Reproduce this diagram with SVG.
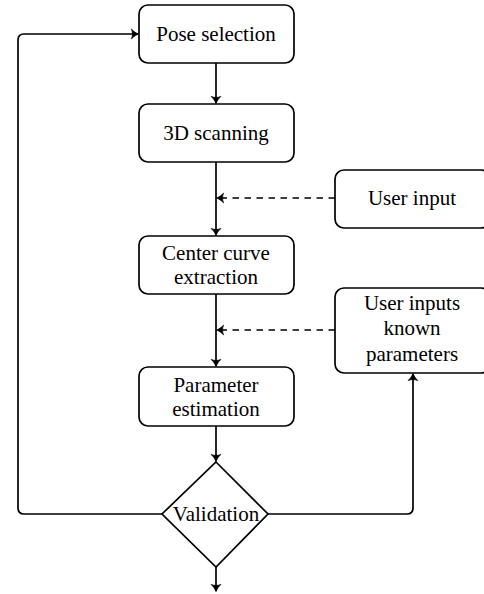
<svg xmlns="http://www.w3.org/2000/svg" width="484" height="594" viewBox="0 0 484 594">
  <style>
    .box { fill: #fff; stroke: #000; stroke-width: 1.7; }
    .lbl { font-family: "Liberation Serif", "Times New Roman", serif; font-size: 21px; fill: #000; text-anchor: middle; }
    .edge { fill: none; stroke: #000; stroke-width: 1.7; marker-end: url(#tip); }
    .dash { stroke-dasharray: 6.5 5.5; }
  </style>
  <defs>
    <!-- curved-barb arrow tip, drawn solid -->
    <marker id="tip" markerUnits="userSpaceOnUse" markerWidth="14" markerHeight="14" viewBox="-8 -7 10 14" refX="0" refY="0" orient="auto" overflow="visible">
      <path d="M 0.5,0 C -2,-1 -4.5,-2.6 -6.5,-4.8 C -5.2,-2 -5.2,2 -6.5,4.8 C -4.5,2.6 -2,1 0.5,0 Z" fill="#000" stroke="#000" stroke-width="0.8" stroke-linejoin="round"/>
    </marker>
  </defs>

  <g id="connectors">
    <path class="edge" d="M216,63 V103"/>
    <path class="edge" d="M216,162 V235"/>
    <path class="edge" d="M216,294 V366"/>
    <path class="edge" d="M216,426 V461"/>
    <path class="edge" d="M216,567 V591"/>
    <path class="edge dash" d="M335,198 H217"/>
    <path class="edge dash" d="M335,330 H217"/>
    <path class="edge" d="M162,514 H24 Q18,514 18,508 V40 Q18,34 24,34 H138"/>
    <path class="edge" d="M268,514 H407 Q413,514 413,508 V374"/>
  </g>

  <g id="pose-selection">
    <rect class="box" x="139" y="5" width="155" height="58" rx="9"/>
    <text class="lbl" x="216" y="41">Pose selection</text>
  </g>
  <g id="scanning">
    <rect class="box" x="139" y="104" width="155" height="58" rx="9"/>
    <text class="lbl" x="216" y="140">3D scanning</text>
  </g>
  <g id="user-input">
    <rect class="box" x="335" y="170" width="155" height="58" rx="9"/>
    <text class="lbl" x="412" y="205">User input</text>
  </g>
  <g id="center-curve">
    <rect class="box" x="139" y="236" width="155" height="58" rx="9"/>
    <text class="lbl" x="216" y="260">Center curve</text>
    <text class="lbl" x="216" y="284">extraction</text>
  </g>
  <g id="known-parameters">
    <rect class="box" x="335" y="288" width="155" height="85" rx="9"/>
    <text class="lbl" x="412" y="310">User inputs</text>
    <text class="lbl" x="412" y="335">known</text>
    <text class="lbl" x="412" y="361">parameters</text>
  </g>
  <g id="parameter-estimation">
    <rect class="box" x="139" y="367" width="155" height="59" rx="9"/>
    <text class="lbl" x="216" y="392">Parameter</text>
    <text class="lbl" x="216" y="416">estimation</text>
  </g>
  <g id="validation">
    <polygon class="box" points="216,462 268,514 216,567 162,514"/>
    <text class="lbl" x="216" y="521">Validation</text>
  </g>
</svg>
